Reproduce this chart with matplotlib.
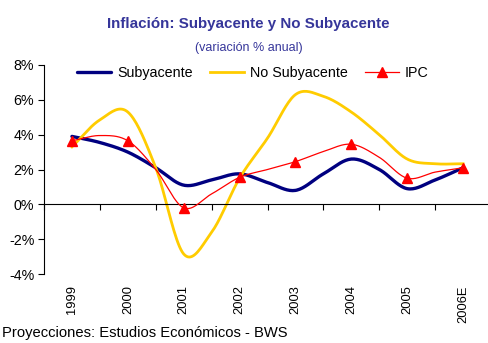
import numpy as np
import matplotlib.pyplot as plt
from matplotlib.ticker import FuncFormatter
from matplotlib.transforms import blended_transform_factory

plt.rcParams['font.family'] = ['Liberation Sans', 'DejaVu Sans']

years = ['1999', '2000', '2001', '2002', '2003', '2004', '2005', '2006E']
# half-year readings, 1999 .. 2006
subyacente = [3.9, 3.55, 3.0, 2.1, 1.1, 1.4, 1.75, 1.25, 0.8, 1.75, 2.6, 2.0, 0.9, 1.4, 2.1]
no_subyacente = [3.3, 4.85, 5.3, 2.1, -2.85, -1.6, 1.5, 3.8, 6.3, 6.2, 5.3, 4.0, 2.6, 2.33, 2.33]
ipc = [3.65, 3.95, 3.65, 2.0, -0.2, 0.6, 1.55, 2.0, 2.45, 3.03, 3.45, 2.7, 1.5, 1.85, 2.1]


def smooth(xs, ys, n=20):
    # catmull-rom curve through the points (same look as excel "smoothed line")
    xs = np.asarray(xs, float)
    ys = np.asarray(ys, float)
    px = np.concatenate([[2 * xs[0] - xs[1]], xs, [2 * xs[-1] - xs[-2]]])
    py = np.concatenate([[2 * ys[0] - ys[1]], ys, [2 * ys[-1] - ys[-2]]])
    t = np.linspace(0, 1, n, endpoint=False)
    ox, oy = [], []
    for i in range(1, len(px) - 2):
        for p, out in ((px, ox), (py, oy)):
            p0, p1, p2, p3 = p[i - 1], p[i], p[i + 1], p[i + 2]
            out.extend(0.5 * (2 * p1 + (p2 - p0) * t
                              + (2 * p0 - 5 * p1 + 4 * p2 - p3) * t ** 2
                              + (3 * p1 - p0 - 3 * p2 + p3) * t ** 3))
    ox.append(xs[-1])
    oy.append(ys[-1])
    return ox, oy


x = np.arange(len(subyacente)) * 0.5

fig = plt.figure(figsize=(4.88, 3.43), dpi=100)
ax = fig.add_axes([44 / 488, 69 / 343, 447 / 488, 209 / 343])

sx, sy = smooth(x, subyacente)
ax.plot(sx, sy, color='#000080', lw=2.4, label='Subyacente', solid_capstyle='round')
nx, ny = smooth(x, no_subyacente)
ax.plot(nx, ny, color='#FFCC00', lw=2.0, label='No Subyacente')
ix, iy = smooth(x, ipc)
ax.plot(ix, iy, color='#FF0000', lw=0.9, zorder=4)
ax.plot(x[::2], ipc[::2], ls='none', marker='^', ms=7, color='#FF0000', zorder=5)
ax.plot([], [], color='#FF0000', lw=0.9, marker='^', ms=7, label='IPC')

ax.set_xlim(-0.5, 7.5)
ax.set_ylim(-4, 8)
ax.set_yticks(range(-4, 9, 2))
ax.yaxis.set_major_formatter(FuncFormatter(lambda v, p: f'{v:.0f}%'))
ax.set_xticks(np.arange(-0.5, 8, 1))
ax.set_xticklabels([])
ax.tick_params(axis='y', direction='out', length=4, width=0.8, labelsize=10.3, pad=3)
ax.tick_params(axis='x', direction='out', length=4, width=0.8)

ax.spines['top'].set_visible(False)
ax.spines['right'].set_visible(False)
ax.spines['bottom'].set_position(('data', 0))
ax.spines['left'].set_linewidth(0.8)
ax.spines['bottom'].set_linewidth(0.8)

trans = blended_transform_factory(ax.transData, ax.transAxes)
for i, yr in enumerate(years):
    ax.text(i, -0.055, yr, transform=trans, rotation=90, ha='center', va='top', fontsize=9.3)

fig.legend(loc='center', bbox_to_anchor=(0.518, 0.787), ncol=3, frameon=False,
           fontsize=10.3, handlelength=2.4, handletextpad=0.4, columnspacing=1.2)

fig.text(0.508, 0.930, 'Inflación: Subyacente y No Subyacente', ha='center', va='center',
         fontsize=10.9, fontweight='bold', color='#36369a')
fig.text(0.51, 0.860, '(variación % anual)', ha='center', va='center',
         fontsize=9, color='#36369a')
fig.text(0.004, 0.029, 'Proyecciones: Estudios Económicos - BWS', ha='left', va='center',
         fontsize=10.6)

fig.savefig('out.png', dpi=100)
